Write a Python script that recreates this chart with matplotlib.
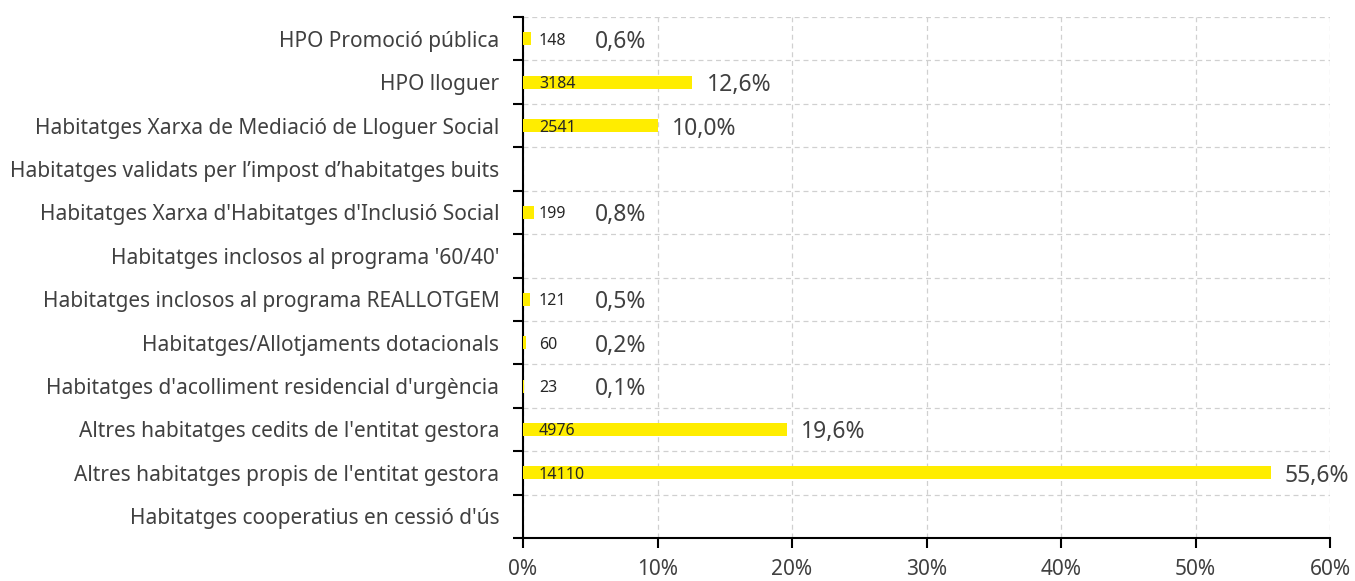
import matplotlib.pyplot as plt
from matplotlib.ticker import FixedLocator, FuncFormatter

categories = [
    "HPO Promoció pública",
    "HPO lloguer",
    "Habitatges Xarxa de Mediació de Lloguer Social",
    "Habitatges validats per l\u2019impost d\u2019habitatges buits",
    "Habitatges Xarxa d'Habitatges d'Inclusió Social",
    "Habitatges inclosos al programa '60/40'",
    "Habitatges inclosos al programa REALLOTGEM",
    "Habitatges/Allotjaments dotacionals",
    "Habitatges d'acolliment residencial d'urgència",
    "Altres habitatges cedits de l'entitat gestora",
    "Altres habitatges propis de l'entitat gestora",
    "Habitatges cooperatius en cessió d'ús",
]
counts = [148, 3184, 2541, None, 199, None, 121, 60, 23, 4976, 14110, None]
percents = [0.6, 12.6, 10.0, None, 0.8, None, 0.5, 0.2, 0.1, 19.6, 55.6, None]
x_ticks = [0, 10, 20, 30, 40, 50, 60]

plt.rcParams['font.family'] = ['Noto Sans', 'DejaVu Sans']
text_color = '#404040'

fig = plt.figure(figsize=(13.55, 5.81), dpi=100)
ax = fig.add_axes([523 / 1355, 43 / 581, 807 / 1355, 521 / 581])

n = len(categories)
ypos = list(range(n))
widths = [p if p is not None else 0 for p in percents]
ax.barh(ypos, widths, height=0.3, color='#FFED00', zorder=3)

for y, c, p in zip(ypos, counts, percents):
    if c is None:
        continue
    ax.annotate(str(c), xy=(0, y), xytext=(16, -2), textcoords='offset pixels',
                ha='left', va='center', fontsize=11.5, color='#262626', zorder=4)
    ax.annotate(f"{p:.1f}%".replace('.', ','), xy=(max(p, 4.3), y), xytext=(14, -3),
                textcoords='offset pixels', ha='left', va='center', fontsize=16.5,
                color=text_color, zorder=4)

ax.set_xlim(0, 60)
ax.set_ylim(n - 0.5, -0.5)
ax.xaxis.set_major_locator(FixedLocator(x_ticks))
ax.xaxis.set_major_formatter(FuncFormatter(lambda v, _: f"{v:.0f}%"))
ax.set_yticks(ypos)
ax.set_yticklabels(categories, fontsize=15, color=text_color)
ax.tick_params(axis='y', which='major', length=0, pad=17)
ax.set_yticks([i - 0.5 for i in range(n + 1)], minor=True)
ax.tick_params(axis='y', which='minor', length=7, width=1.5, direction='out')
ax.tick_params(axis='x', length=7, width=1.5, direction='out', labelsize=15,
               labelcolor=text_color, pad=8)

ax.grid(True, axis='x', which='major', linestyle=(0, (4, 3)), color='#d0d0d0', linewidth=0.9, zorder=0)
ax.grid(True, axis='y', which='minor', linestyle=(0, (4, 3)), color='#d0d0d0', linewidth=0.9, zorder=0)

for side in ['top', 'right']:
    ax.spines[side].set_visible(False)
ax.spines['left'].set_linewidth(1.5)
ax.spines['bottom'].set_linewidth(1.5)

fig.savefig('out.png', dpi=100)
